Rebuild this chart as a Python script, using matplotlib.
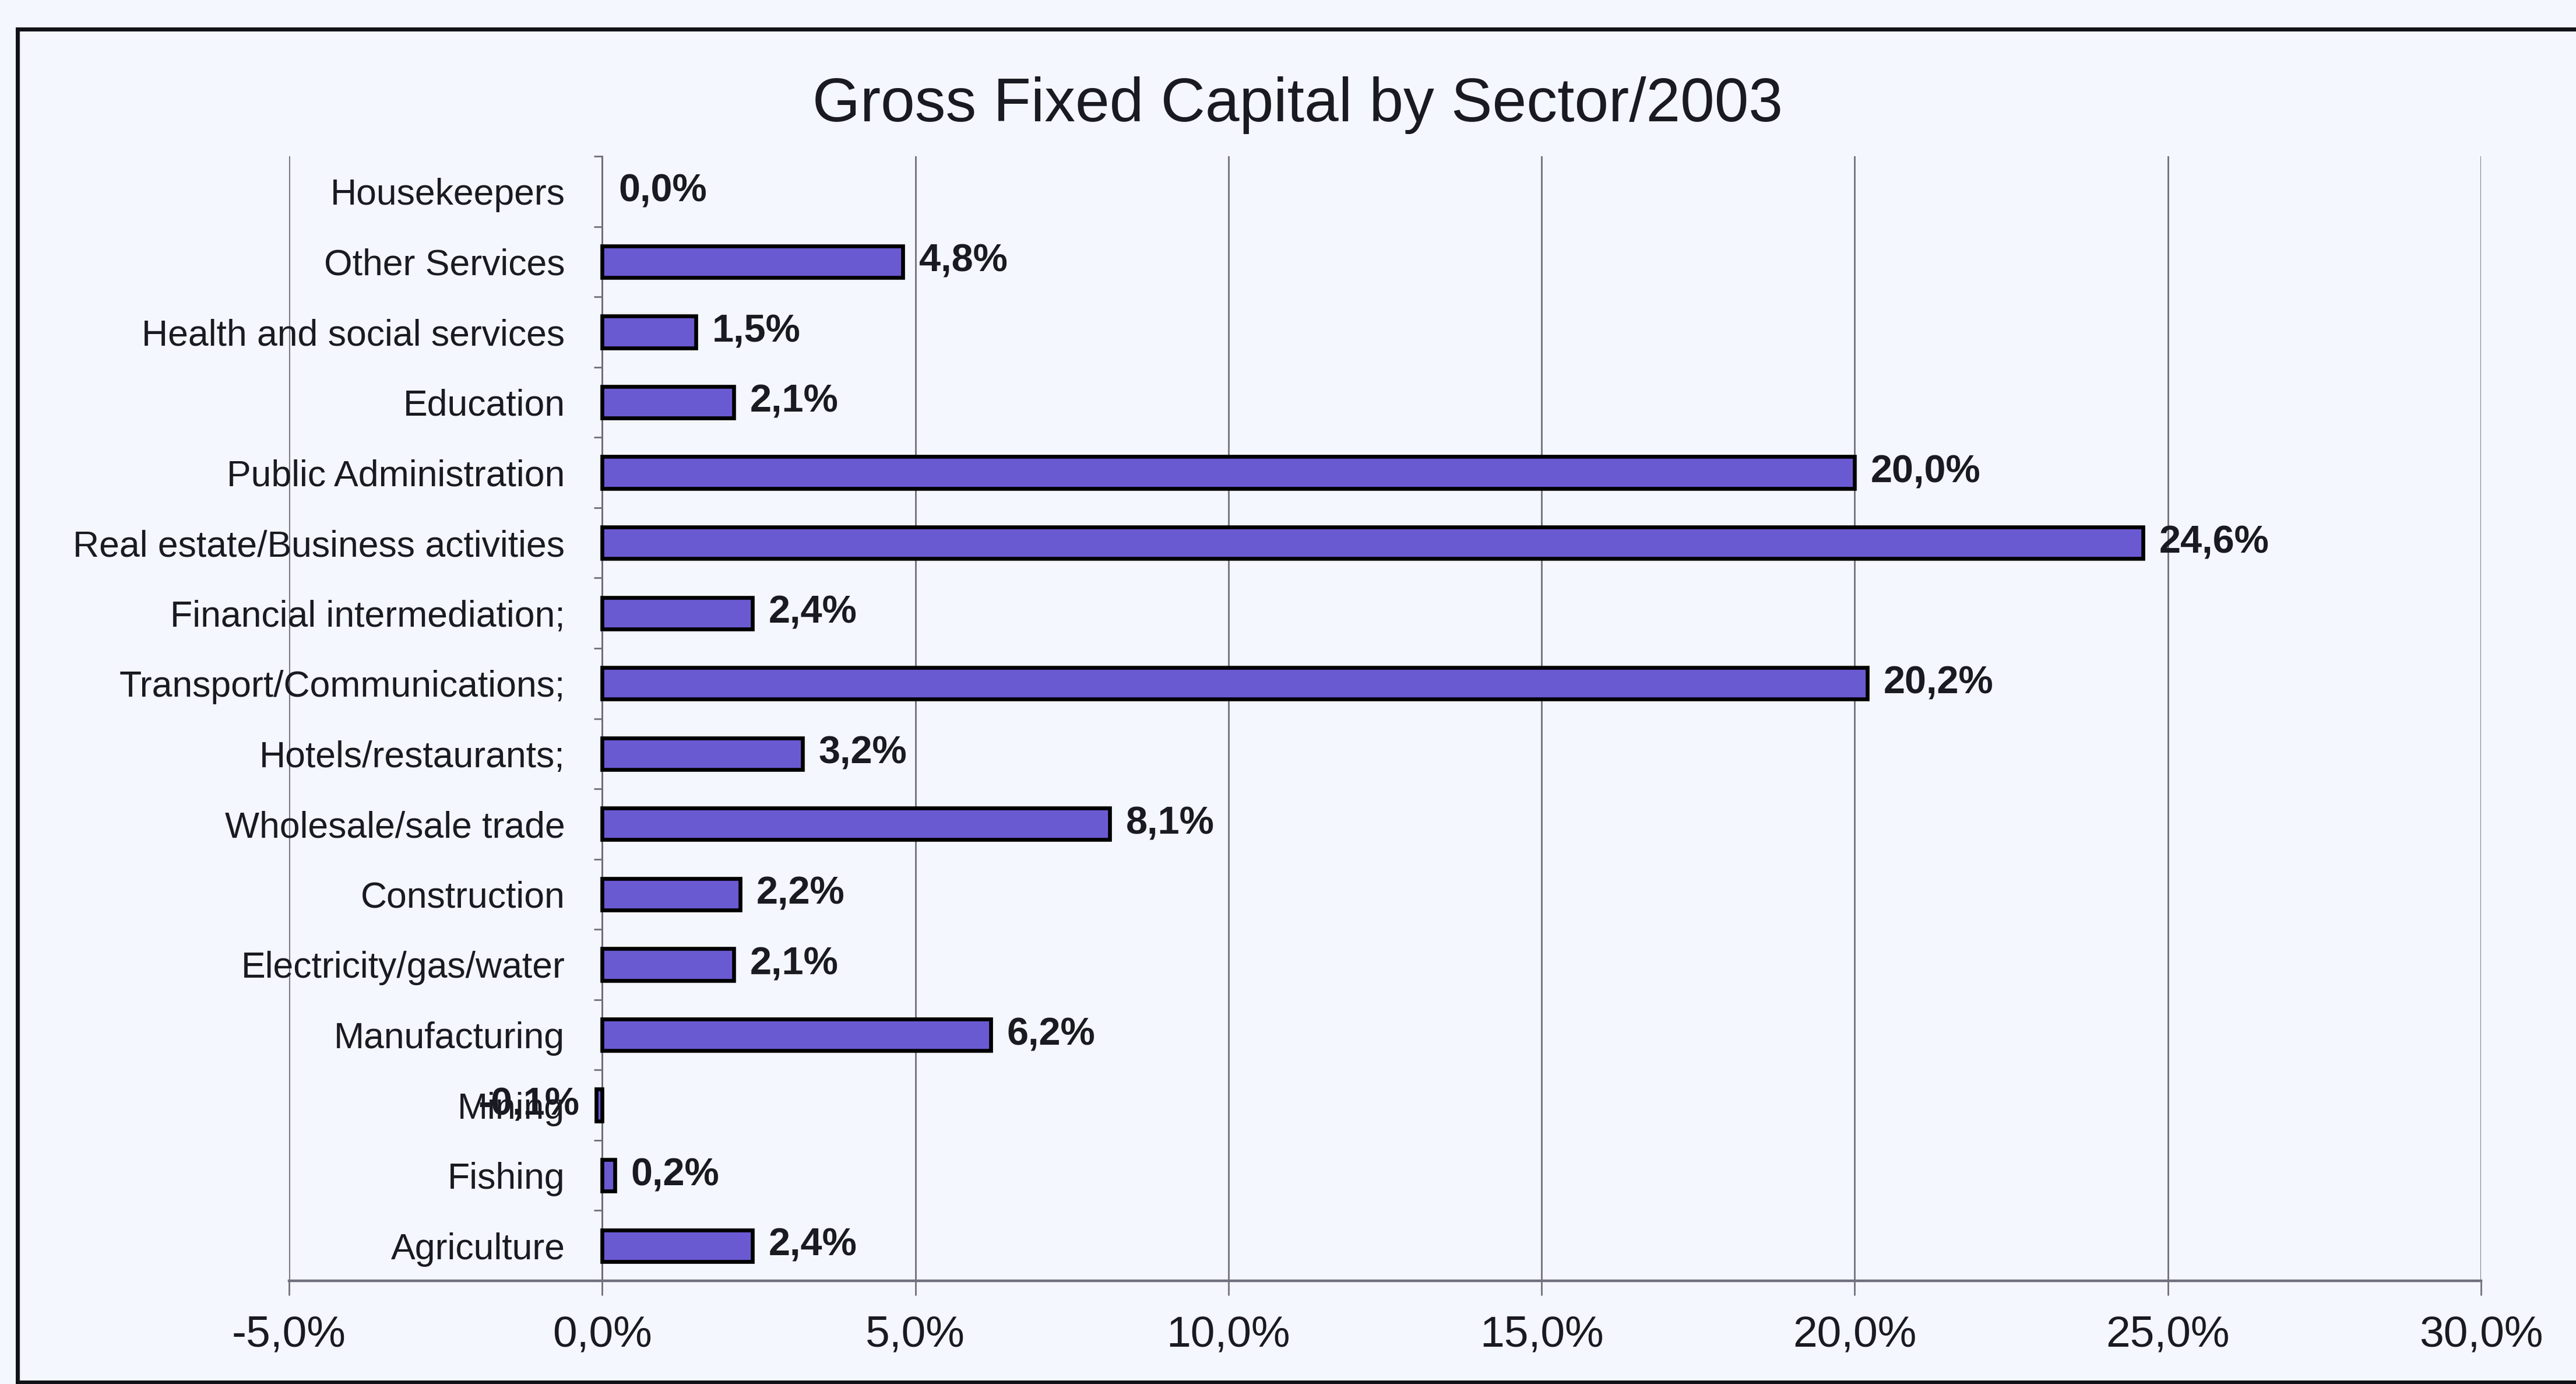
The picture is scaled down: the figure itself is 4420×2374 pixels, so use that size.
import numpy as np
import matplotlib
matplotlib.use("Agg")
import matplotlib.pyplot as plt
from matplotlib.lines import Line2D
from matplotlib.ticker import FixedLocator

plt.rcParams['font.family'] = ['Liberation Sans', 'DejaVu Sans']

# Sectors listed top to bottom, with their share of gross fixed capital (%)
sectors = [
    "Housekeepers",
    "Other Services",
    "Health and social services",
    "Education",
    "Public Administration",
    "Real estate/Business activities",
    "Financial intermediation;",
    "Transport/Communications;",
    "Hotels/restaurants;",
    "Wholesale/sale trade",
    "Construction",
    "Electricity/gas/water",
    "Manufacturing",
    "Mining",
    "Fishing",
    "Agriculture",
]
shares = [0.0, 4.8, 1.5, 2.1, 20.0, 24.6, 2.4, 20.2, 3.2, 8.1, 2.2, 2.1, 6.2, -0.1, 0.2, 2.4]
x_ticks = [-5, 0, 5, 10, 15, 20, 25, 30]
title = "Gross Fixed Capital by Sector/2003"

bg = "#f4f7fd"
bar_fill = "#6a5ad2"
grid_col = "#70707e"
text_col = "#1a1a22"

W, H, DPI = 4420, 2374, 200
fig = plt.figure(figsize=(W / DPI, H / DPI), dpi=DPI)
fig.patch.set_facecolor(bg)

ax = fig.add_axes([496 / W, 1 - 2197 / H, (4257 - 496) / W, (2197 - 268) / H])
ax.set_facecolor(bg)

y = np.arange(len(sectors))
edge_w = [0 if v == 0 else 2.4 for v in shares]
ax.barh(y, shares, height=0.45, color=bar_fill, edgecolor="black",
        linewidth=edge_w, zorder=3)

ax.set_xlim(x_ticks[0], x_ticks[-1])
ax.set_ylim(len(sectors) - 0.5, -0.5)

# value axis
ax.set_xticks(x_ticks)
ax.set_xticklabels([f"{v:.1f}%".replace(".", ",") for v in x_ticks],
                   fontsize=27, color=text_col)
ax.tick_params(axis="x", direction="out", length=9, width=1.0, color=grid_col, pad=12)
ax.grid(axis="x", color=grid_col, linewidth=1.0, zorder=0)
ax.grid(axis="y", visible=False)

# category axis sits at zero, ticks on category boundaries
ax.spines["left"].set_position(("data", 0))
ax.spines["left"].set_color(grid_col)
ax.spines["left"].set_linewidth(1.0)
ax.spines["left"].set_zorder(2)
ax.spines["bottom"].set_color(grid_col)
ax.spines["bottom"].set_linewidth(1.6)
ax.spines["top"].set_visible(False)
ax.spines["right"].set_visible(False)

ax.set_yticks(y)
ax.set_yticklabels(sectors, fontsize=22.5, color=text_col)
ax.tick_params(axis="y", which="major", length=0, pad=23)
ax.yaxis.set_minor_locator(FixedLocator(np.arange(len(sectors) + 1) - 0.5))
ax.tick_params(axis="y", which="minor", length=5, width=1.0, color=grid_col, direction="out")

# value labels beside each bar
for yi, v in zip(y, shares):
    lbl = f"{v:.1f}%".replace(".", ",")
    off, ha = (10, "left") if v >= 0 else (-10, "right")
    ax.annotate(lbl, (v, yi), xytext=(off, 0), textcoords="offset points",
                ha=ha, va="center", fontsize=24, fontweight="bold",
                color=text_col, zorder=4)

fig.text(2227 / W, 1 - 180 / H, title, ha="center", va="center",
         fontsize=38, color=text_col)

# chart frame
left_x = 30 / W
top_y = 1 - 50 / H
bot_y = 3 / H
for xs, ys in [([left_x, 1.0], [top_y, top_y]),
               ([left_x, left_x], [bot_y, top_y]),
               ([left_x, 1.0], [bot_y, bot_y])]:
    fig.add_artist(Line2D(xs, ys, transform=fig.transFigure, color="#111118",
                          linewidth=2.5, solid_capstyle="projecting"))

fig.savefig("out.png", dpi=DPI, facecolor=bg)
